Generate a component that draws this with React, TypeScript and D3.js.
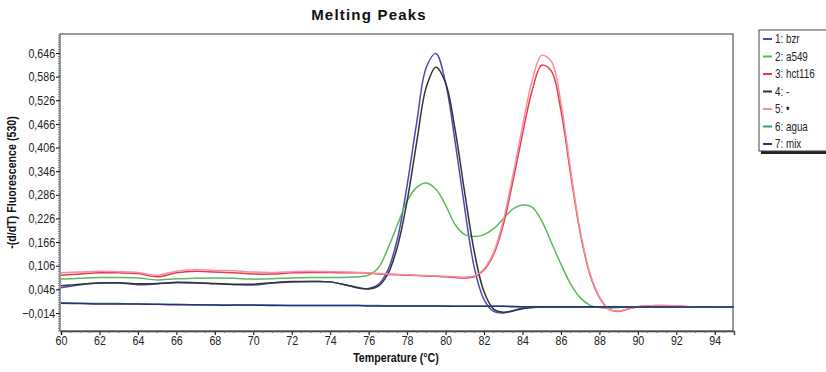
import React, { useRef, useEffect } from "react";
import * as d3 from "d3";

// temperature grid (°C) shared by all series
const temps = [
  60, 61, 62, 63, 64, 65, 66, 67, 68, 69, 70, 71, 72, 73, 74, 75,
  75.5, 76, 76.5, 77, 77.5, 78, 78.5, 79, 79.5, 80, 80.5, 81, 81.5, 82, 82.5,
  83, 83.5, 84, 84.5, 85, 85.5, 86, 86.5, 87, 87.5, 88, 88.5, 89, 89.5, 90,
  91, 92, 93, 94, 95,
];

const bzr = [
  0.050, 0.058, 0.062, 0.062, 0.058, 0.060, 0.063, 0.062, 0.060, 0.058, 0.057, 0.062, 0.065, 0.066, 0.065, 0.055,
  0.049, 0.048, 0.058, 0.095, 0.175, 0.31, 0.47, 0.61, 0.645, 0.57, 0.42, 0.25, 0.10, 0.02, -0.010,
  -0.014, -0.008, -0.002, 0.0, 0.001, 0.001, 0.001, 0.001, 0.001, 0.001, 0.001, 0.001, 0.001, 0.001, 0.001,
  0.001, 0.001, 0.001, 0.001, 0.001,
];
const a549 = [
  0.072, 0.074, 0.076, 0.076, 0.075, 0.070, 0.073, 0.074, 0.075, 0.074, 0.072, 0.073, 0.075, 0.076, 0.076, 0.077,
  0.078, 0.082, 0.10, 0.15, 0.21, 0.27, 0.305, 0.316, 0.30, 0.26, 0.21, 0.185, 0.18, 0.185, 0.20,
  0.225, 0.25, 0.26, 0.255, 0.22, 0.165, 0.11, 0.06, 0.025, 0.006, 0.0, -0.002, 0.0, 0.001, 0.001,
  0.001, 0.001, 0.001, 0.001, 0.001,
];
const hct116 = [
  0.082, 0.085, 0.088, 0.088, 0.086, 0.078, 0.088, 0.092, 0.090, 0.088, 0.085, 0.085, 0.088, 0.089, 0.089, 0.088,
  0.088, 0.087, 0.085, 0.084, 0.083, 0.082, 0.081, 0.080, 0.079, 0.078, 0.076, 0.075, 0.078, 0.095, 0.135,
  0.21, 0.32, 0.44, 0.55, 0.615, 0.60, 0.50, 0.34, 0.19, 0.085, 0.025, -0.005, -0.010, -0.004, 0.002,
  0.005, 0.004, 0.001, 0.001, 0.001,
];
const neg = [
  0.055, 0.059, 0.062, 0.063, 0.060, 0.061, 0.064, 0.063, 0.061, 0.059, 0.059, 0.063, 0.066, 0.066, 0.065, 0.055,
  0.050, 0.047, 0.054, 0.085, 0.155, 0.27, 0.42, 0.56, 0.61, 0.57, 0.45, 0.29, 0.14, 0.04, -0.004,
  -0.012, -0.009, -0.003, 0.0, 0.001, 0.001, 0.001, 0.001, 0.001, 0.001, 0.001, 0.001, 0.001, 0.001, 0.001,
  0.001, 0.001, 0.001, 0.001, 0.001,
];
const dot = [
  0.088, 0.090, 0.092, 0.091, 0.089, 0.082, 0.092, 0.096, 0.094, 0.093, 0.090, 0.089, 0.091, 0.092, 0.091, 0.090,
  0.089, 0.088, 0.086, 0.085, 0.084, 0.083, 0.082, 0.081, 0.080, 0.079, 0.078, 0.077, 0.080, 0.098, 0.14,
  0.22, 0.335, 0.46, 0.575, 0.64, 0.625, 0.52, 0.35, 0.195, 0.088, 0.027, -0.004, -0.009, -0.003, 0.002,
  0.005, 0.004, 0.001, 0.001, 0.001,
];
const agua = [
  0.012, 0.011, 0.010, 0.010, 0.009, 0.008, 0.008, 0.007, 0.007, 0.006, 0.006, 0.006, 0.005, 0.005, 0.005, 0.005,
  0.005, 0.005, 0.005, 0.004, 0.004, 0.004, 0.004, 0.004, 0.004, 0.004, 0.003, 0.003, 0.003, 0.003, 0.003,
  0.003, 0.003, 0.002, 0.002, 0.002, 0.002, 0.002, 0.002, 0.002, 0.002, 0.002, 0.002, 0.002, 0.001, 0.001,
  0.001, 0.001, 0.001, 0.001, 0.001,
];
const mix = [
  0.011, 0.010, 0.009, 0.009, 0.009, 0.008, 0.007, 0.007, 0.006, 0.006, 0.006, 0.005, 0.005, 0.005, 0.005, 0.005,
  0.005, 0.004, 0.004, 0.004, 0.004, 0.004, 0.004, 0.004, 0.004, 0.003, 0.003, 0.003, 0.003, 0.003, 0.003,
  0.003, 0.002, 0.002, 0.002, 0.002, 0.002, 0.002, 0.002, 0.002, 0.002, 0.002, 0.002, 0.002, 0.001, 0.001,
  0.001, 0.001, 0.001, 0.001, 0.001,
];

const seriesNames = ["1: bzr", "2: a549", "3: hct116", "4: -", "5: \u2022", "6: agua", "7: mix"];
const seriesColors = ["#4a4ab8", "#5cb85c", "#e8394a", "#333333", "#f4909e", "#3c9a74", "#2c2c80"];
const seriesValues = [bzr, a549, hct116, neg, dot, agua, mix];

const xTicks = [60, 62, 64, 66, 68, 70, 72, 74, 76, 78, 80, 82, 84, 86, 88, 90, 92, 94];
const yTicks = [-0.014, 0.046, 0.106, 0.166, 0.226, 0.286, 0.346, 0.406, 0.466, 0.526, 0.586, 0.646];

const FONT = "'Liberation Sans', Arial, sans-serif";
const NARROW = "scale(0.82,1)"; // fake a condensed face

const App = () => {
  const ref = useRef<SVGSVGElement>(null);

  useEffect(() => {
    const svg = d3.select(ref.current);
    svg.selectAll("*").remove();

    const W = 826, H = 372;
    const left = 60, right = 733, top = 34, bottom = 331;

    const x = d3.scaleLinear().domain([60, 95]).range([left + 1, right + 1]);
    const y = d3.scaleLinear().domain([-0.014, 0.646]).range([313, 53]);

    svg.append("rect").attr("width", W).attr("height", H).attr("fill", "#fff");

    // title
    svg.append("text")
      .attr("x", 369).attr("y", 20)
      .attr("text-anchor", "middle")
      .attr("font-family", FONT)
      .attr("font-weight", "bold").attr("font-size", 15)
      .attr("letter-spacing", 1.2)
      .attr("fill", "#111")
      .text("Melting Peaks");

    // plot frame
    svg.append("rect")
      .attr("x", left).attr("y", top)
      .attr("width", right - left).attr("height", bottom - top)
      .attr("fill", "none").attr("stroke", "#555").attr("stroke-width", 1.2);

    // x axis
    const gx = svg.append("g").attr("transform", `translate(0,${bottom})`);
    gx.call(
      d3.axisBottom(x).tickValues(xTicks).tickSize(4).tickPadding(3).tickFormat(d3.format("d"))
    );
    gx.call(g => g.select(".domain").attr("stroke", "#444").attr("stroke-width", 1.5));
    gx.append("g").selectAll("line")
      .data(d3.range(60, 95.01, 0.5))
      .join("line")
      .attr("x1", d => x(d)).attr("x2", d => x(d))
      .attr("y1", 0).attr("y2", 2)
      .attr("stroke", "#666");
    gx.selectAll(".tick text")
      .attr("font-family", FONT).attr("font-size", 13).attr("fill", "#222")
      .attr("y", 5)
      .attr("transform", NARROW);

    // y axis
    const gy = svg.append("g").attr("transform", `translate(${left},0)`);
    gy.call(
      d3.axisLeft(y).tickValues(yTicks).tickSize(4).tickPadding(2)
        .tickFormat(d => d3.format(".3f")(d as number).replace(".", ","))
    );
    gy.call(g => g.select(".domain").remove());
    gy.append("g").selectAll("line")
      .data(d3.range(-0.059, 0.694, 0.006))
      .join("line")
      .attr("x1", -2).attr("x2", 0)
      .attr("y1", d => y(d)).attr("y2", d => y(d))
      .attr("stroke", "#777");
    gy.selectAll(".tick text")
      .attr("font-family", FONT).attr("font-size", 13).attr("fill", "#222")
      .attr("transform", NARROW);

    // axis titles
    svg.append("text")
      .attr("transform", `translate(396,362) ${NARROW}`)
      .attr("text-anchor", "middle")
      .attr("font-family", FONT).attr("font-weight", "bold").attr("font-size", 13)
      .attr("fill", "#111")
      .text("Temperature (\u00b0C)");
    svg.append("text")
      .attr("transform", `translate(16,${(top + bottom) / 2}) rotate(-90) ${NARROW}`)
      .attr("text-anchor", "middle")
      .attr("font-family", FONT).attr("font-weight", "bold").attr("font-size", 13)
      .attr("fill", "#111")
      .text("-(d/dT) Fluorescence (530)");

    // curves
    const line = d3.line<number>()
      .x((_, i) => x(temps[i]))
      .y(d => y(d))
      .curve(d3.curveCatmullRom.alpha(0.5));

    const plot = svg.append("g");
    seriesValues.forEach((vals, i) => {
      plot.append("path")
        .datum(vals)
        .attr("d", line)
        .attr("fill", "none")
        .attr("stroke", seriesColors[i])
        .attr("stroke-width", 1.5);
    });

    // legend
    const lg = svg.append("g").attr("transform", "translate(759,30)");
    lg.append("rect")
      .attr("x", 2).attr("y", 3).attr("width", 80).attr("height", 121)
      .attr("fill", "#222");
    lg.append("rect")
      .attr("x", 0).attr("y", 0).attr("width", 80).attr("height", 121)
      .attr("fill", "#fff").attr("stroke", "#444");
    seriesNames.forEach((name, i) => {
      const yy = 9 + i * 17.5;
      lg.append("line")
        .attr("x1", 4).attr("x2", 13).attr("y1", yy).attr("y2", yy)
        .attr("stroke", seriesColors[i]).attr("stroke-width", 2);
      lg.append("text")
        .attr("transform", `translate(16,${yy + 4}) ${NARROW}`)
        .attr("font-family", FONT).attr("font-size", 12).attr("fill", "#222")
        .text(name);
    });
  }, []);

  return (
    <svg
      ref={ref}
      width={826}
      height={372}
      style={{ display: "block", position: "absolute", left: 0, top: 0 }}
    />
  );
};

export default App;
